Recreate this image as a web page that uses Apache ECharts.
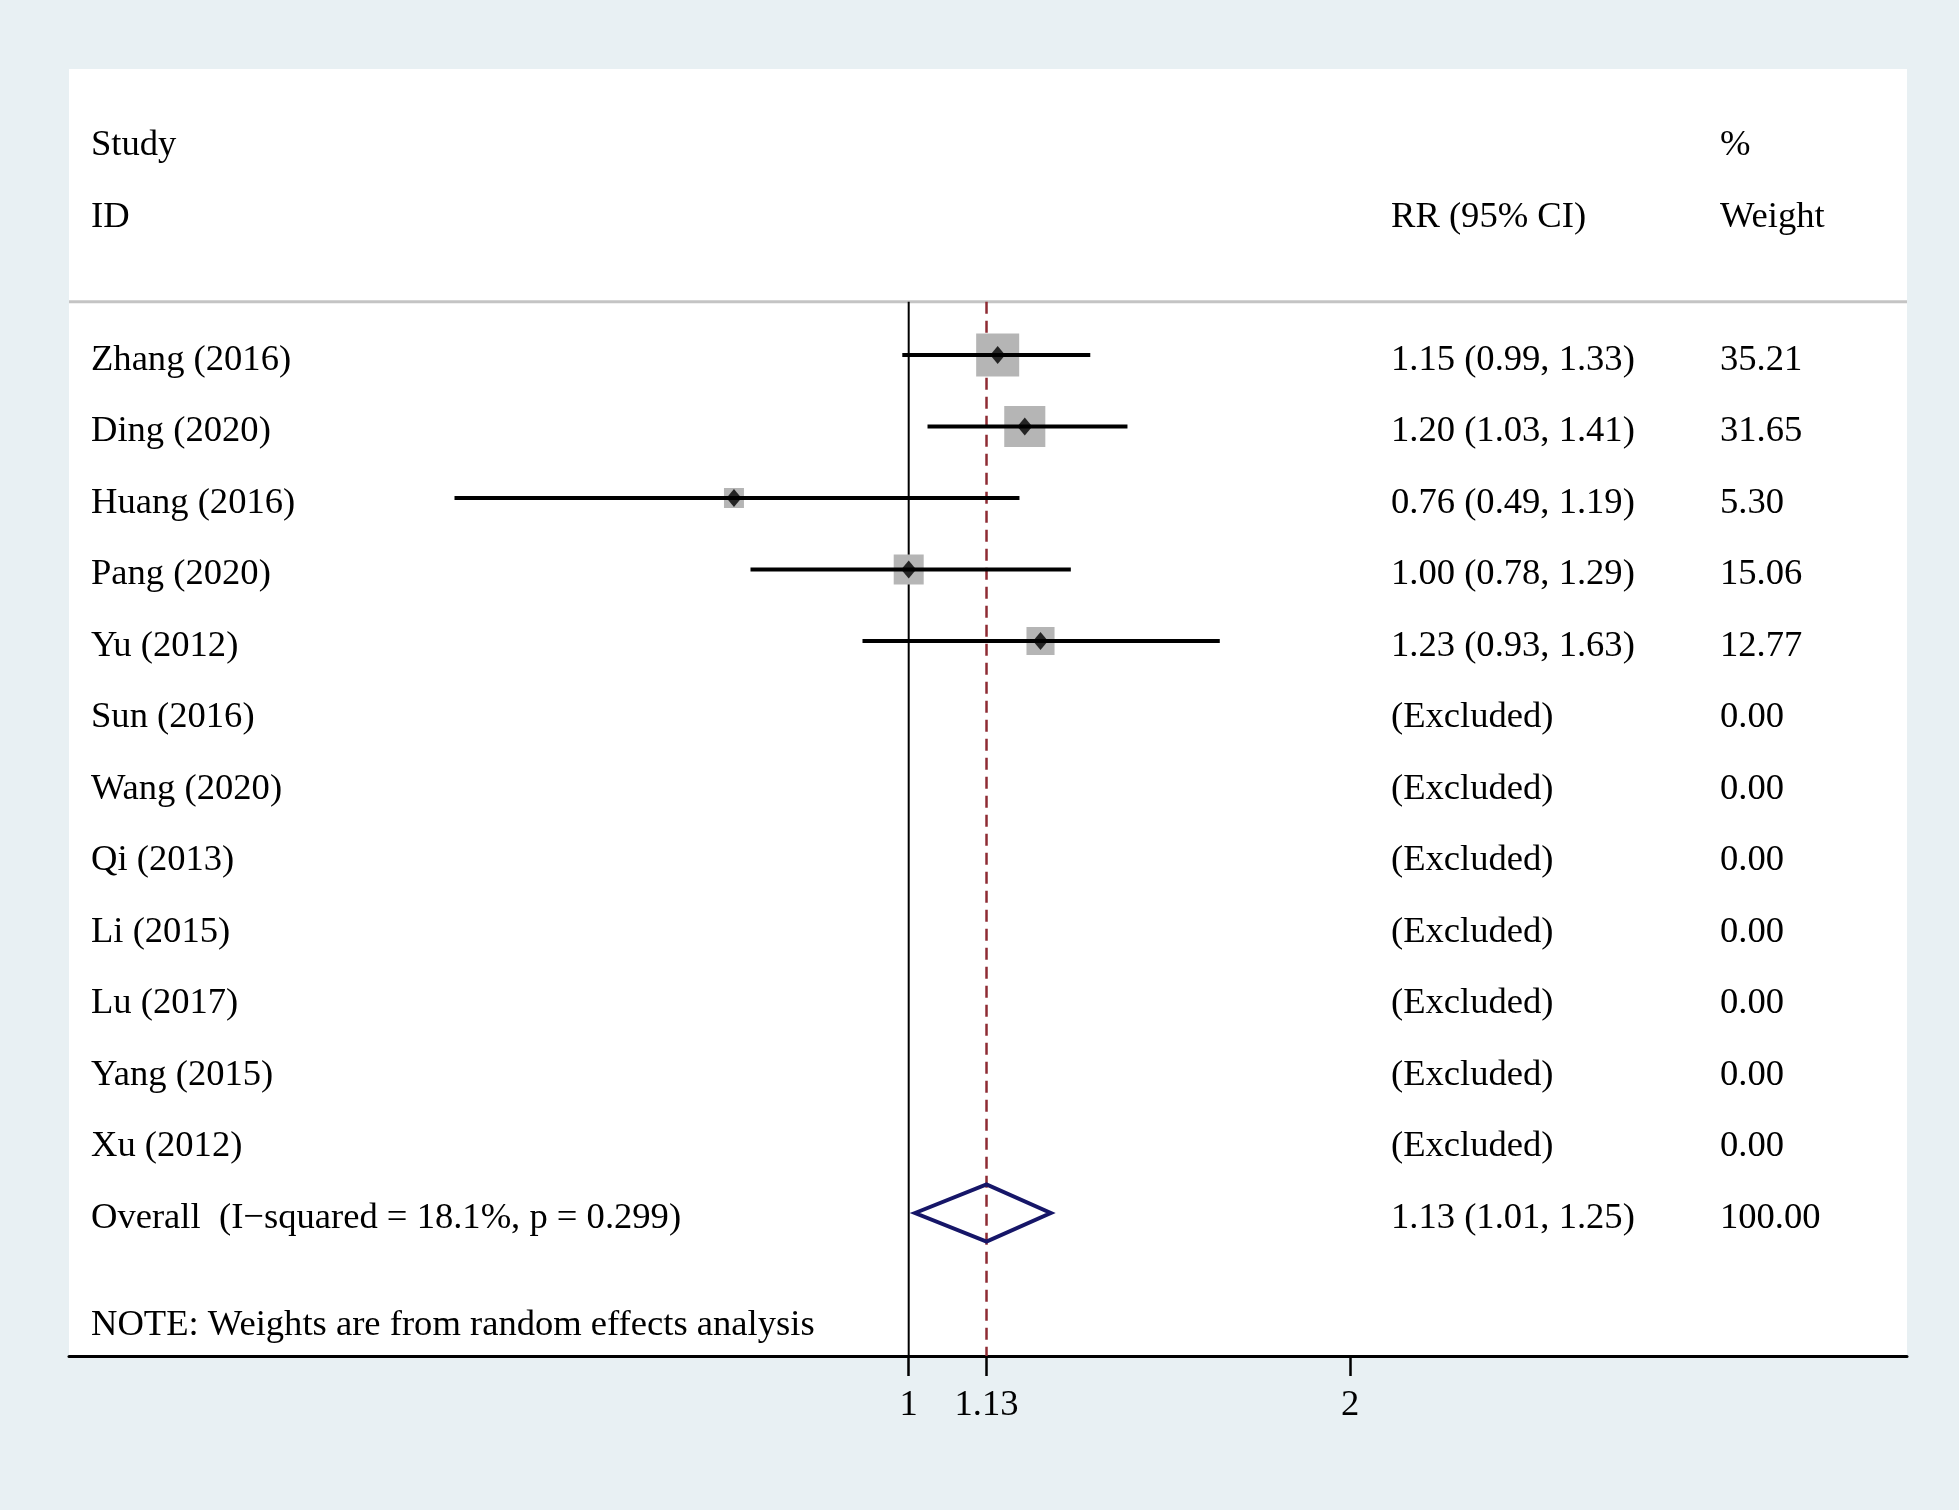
<!DOCTYPE html>
<html>
<head>
<meta charset="utf-8">
<script src="https://cdn.jsdelivr.net/npm/echarts@6/dist/echarts.min.js"></script>
<style>
  html, body { margin: 0; padding: 0; background: #e8f0f3; }
  #chart { width: 1959px; height: 1510px; }
</style>
</head>
<body>
<div id="chart"></div>
<script>
// ---------------- data ----------------
const studies = ['Zhang (2016)', 'Ding (2020)', 'Huang (2016)', 'Pang (2020)', 'Yu (2012)',
  'Sun (2016)', 'Wang (2020)', 'Qi (2013)', 'Li (2015)', 'Lu (2017)', 'Yang (2015)', 'Xu (2012)'];
const rr      = [1.15, 1.20, 0.76, 1.00, 1.23, null, null, null, null, null, null, null];
const ciLower = [0.99, 1.03, 0.49, 0.78, 0.93, null, null, null, null, null, null, null];
const ciUpper = [1.33, 1.41, 1.19, 1.29, 1.63, null, null, null, null, null, null, null];
const weights = [35.21, 31.65, 5.30, 15.06, 12.77, 0, 0, 0, 0, 0, 0, 0];
const overallLabel = 'Overall  (I\u2212squared = 18.1%, p = 0.299)';
const overallRR = [1.13, 1.01, 1.25];   // estimate, lower, upper
const overallWeight = 100;
const tickValues = [1, 1.13, 2];
const tickLabels = ['1', '1.13', '2'];
const headerLeft = ['Study', 'ID'];
const headerMid = 'RR (95% CI)';
const headerRight = ['%', 'Weight'];
const noteText = 'NOTE: Weights are from random effects analysis';

// ---------------- layout / style ----------------
const FONT = 'Liberation Serif';
const FS = 36.6;
const TXT_DY = 5;
const X_MIN = -1.3188, X_MAX = 1.5679;   // log-scale range of the panel
const Y_MIN = -4, Y_MAX = 14;
const Y_SEP = -0.745;                      // header separator row position
const COL_STUDY = 91, COL_RR = 1391, COL_W = 1720;
const ln = Math.log;

function fmt(v) { return v.toFixed(2); }

// table rows: [row, left text, mid text, right text]
const tableRows = [];
tableRows.push([-3, headerLeft[0], '', headerRight[0]]);
tableRows.push([-2, headerLeft[1], headerMid, headerRight[1]]);
studies.forEach((s, i) => {
  const mid = rr[i] == null ? '(Excluded)' : fmt(rr[i]) + ' (' + fmt(ciLower[i]) + ', ' + fmt(ciUpper[i]) + ')';
  tableRows.push([i, s, mid, fmt(weights[i])]);
});
const oRow = studies.length;
tableRows.push([oRow, overallLabel,
  fmt(overallRR[0]) + ' (' + fmt(overallRR[1]) + ', ' + fmt(overallRR[2]) + ')', fmt(overallWeight)]);
tableRows.push([oRow + 1.5, noteText, '', '']);

const ciData = [], boxData = [], ptData = [];
studies.forEach((s, i) => {
  if (rr[i] == null) return;
  ciData.push([ln(ciLower[i]), ln(ciUpper[i]), i]);
  boxData.push([ln(rr[i]), i, weights[i]]);
  ptData.push([ln(rr[i]), i]);
});

const chart = echarts.init(document.getElementById('chart'), null, { renderer: 'canvas' });

function txt(text, x, y) {
  return { type: 'text', style: { text: text, x: x, y: y + TXT_DY, fill: '#000', fontSize: FS, fontFamily: FONT, align: 'left', verticalAlign: 'middle' } };
}

const option = {
  animation: false,
  backgroundColor: '#e8f0f3',
  grid: { left: 69, right: 52, top: 69, bottom: 154, show: true, backgroundColor: '#ffffff', borderWidth: 0 },
  xAxis: {
    type: 'value', min: X_MIN, max: X_MAX, position: 'bottom',
    axisLine: { show: true, onZero: false, lineStyle: { color: '#000', width: 3 } },
    axisTick: { show: true, length: 20, lineStyle: { color: '#000', width: 2.5 }, customValues: tickValues.map(ln) },
    axisLabel: {
      show: true, margin: 31, color: '#000', fontSize: FS, fontFamily: FONT,
      customValues: tickValues.map(ln),
      formatter: function (v) {
        let best = 0, d = Infinity;
        tickValues.forEach((t, k) => { const dd = Math.abs(ln(t) - v); if (dd < d) { d = dd; best = k; } });
        return tickLabels[best];
      }
    },
    splitLine: { show: false }
  },
  yAxis: { type: 'value', min: Y_MIN, max: Y_MAX, inverse: true, show: false, splitLine: { show: false } },
  series: [
    { // header separator
      type: 'line', data: [[X_MIN, Y_SEP], [X_MAX, Y_SEP]], symbol: 'none', silent: true,
      lineStyle: { color: '#c4c4c4', width: 3 }, z: 1
    },
    { // null line at RR = 1
      type: 'line', data: [[ln(1), Y_SEP], [ln(1), Y_MAX]], symbol: 'none', silent: true,
      lineStyle: { color: '#000', width: 2 }, z: 2
    },
    { // overall effect line
      type: 'line', data: [[ln(overallRR[0]), Y_SEP], [ln(overallRR[0]), Y_MAX]], symbol: 'none', silent: true,
      lineStyle: { color: '#8e2b33', width: 2.5, type: [12, 7] }, z: 2
    },
    { // weight boxes
      type: 'custom', z: 3, silent: true,
      data: boxData,
      renderItem: function (params, api) {
        const c = api.coord([api.value(0), api.value(1)]);
        const s = 5.4 + 6.34 * Math.sqrt(api.value(2));
        return { type: 'rect', shape: { x: c[0] - s / 2, y: c[1] - s / 2, width: s, height: s }, style: { fill: '#b5b5b5' } };
      }
    },
    { // CI lines
      type: 'custom', z: 4, silent: true,
      data: ciData,
      renderItem: function (params, api) {
        const a = api.coord([api.value(0), api.value(2)]);
        const b = api.coord([api.value(1), api.value(2)]);
        return { type: 'line', shape: { x1: a[0], y1: a[1], x2: b[0], y2: b[1] }, style: { stroke: '#000', lineWidth: 4 } };
      }
    },
    { // point estimates
      type: 'scatter', z: 5, silent: true, data: ptData,
      symbol: 'diamond', symbolSize: [15, 18], itemStyle: { color: '#000' }
    },
    { // overall diamond
      type: 'custom', z: 5, silent: true,
      data: [[ln(overallRR[0]), ln(overallRR[1]), ln(overallRR[2]), oRow]],
      renderItem: function (params, api) {
        const r = api.value(3), h = 0.4;
        const pts = [
          api.coord([api.value(1), r]),
          api.coord([api.value(0), r - h]),
          api.coord([api.value(2), r]),
          api.coord([api.value(0), r + h])
        ];
        return { type: 'polygon', shape: { points: pts }, style: { fill: 'none', stroke: '#161668', lineWidth: 4 } };
      }
    },
    { // table text
      type: 'custom', z: 6, silent: true,
      data: tableRows.map(r => [0, r[0]]),
      renderItem: function (params, api) {
        const row = tableRows[params.dataIndex];
        const y = api.coord([0, api.value(1)])[1];
        const kids = [];
        if (row[1]) kids.push(txt(row[1], COL_STUDY, y));
        if (row[2]) kids.push(txt(row[2], COL_RR, y));
        if (row[3]) kids.push(txt(row[3], COL_W, y));
        return { type: 'group', children: kids };
      }
    }
  ]
};
chart.setOption(option);
</script>
</body>
</html>
